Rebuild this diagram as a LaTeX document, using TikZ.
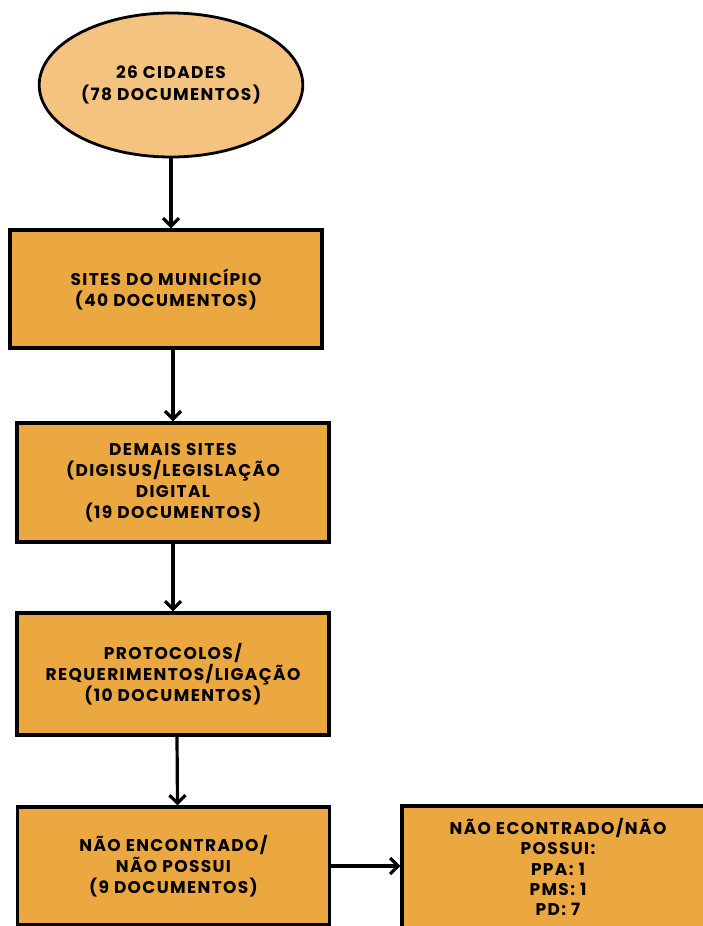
\documentclass[tikz,border=0pt]{standalone}
\usepackage{fontspec}
\setmainfont{Poppins}[LetterSpace=8]
\usetikzlibrary{arrows.meta,positioning,shapes.geometric}
\definecolor{caixaor}{RGB}{235,168,64}
\definecolor{elipseor}{RGB}{244,195,127}

\begin{document}
\begin{tikzpicture}[x=1pt, y=-1pt,
    caixa/.style={draw, line width=3.2pt, fill=caixaor, minimum width=312pt, align=center, inner sep=2pt,
        font=\bfseries\fontsize{17}{21}\selectfont},
    seta/.style={-{Straight Barb[length=8pt, width=16pt, line width=3.2pt]}, line width=3.2pt}
]
\useasboundingbox (0,0) rectangle (702,926);

% Inicio
\node[ellipse, draw, line width=2.8pt, fill=elipseor, minimum width=252pt, minimum height=144pt,
    align=center, font=\bfseries\fontsize{17}{22}\selectfont] (cidades) at (171,85)
    {26 CIDADES\\(78 DOCUMENTOS)};

% Etapas de busca
\node[caixa, minimum height=118pt] (sites) at (166,289) {SITES DO MUNICÍPIO\\(40 DOCUMENTOS)};
\node[caixa, minimum height=119pt] (demais) at (173,482.5)
    {DEMAIS SITES\\(DIGISUS/LEGISLAÇÃO\\DIGITAL\\(19 DOCUMENTOS)};
\node[caixa, minimum height=122pt] (protocolos) at (173,674)
    {PROTOCOLOS/\\REQUERIMENTOS/LIGAÇÃO\\(10 DOCUMENTOS)};
\node[caixa, minimum height=118pt] (naoenc) at (173.5,866)
    {NÃO ENCONTRADO/\\NÃO POSSUI\\(9 DOCUMENTOS)};

% Detalhe
\node[caixa, minimum height=122pt, font=\bfseries\fontsize{17}{20.3}\selectfont] (detalhe) at (558,867)
    {NÃO ECONTRADO/NÃO\\POSSUI:\\PPA: 1\\PMS: 1\\PD: 7};

% Setas
\draw[seta] (cidades.south) -- (cidades.south |- sites.north);
\draw[seta] (demais.north |- sites.south) -- (demais.north);
\draw[seta] (demais.south) -- (protocolos.north);
\draw[seta] ([xshift=4pt]protocolos.south) -- ([xshift=4pt]naoenc.north);
\draw[seta] (naoenc.east) -- (detalhe.west |- naoenc.east);

\end{tikzpicture}
\end{document}
